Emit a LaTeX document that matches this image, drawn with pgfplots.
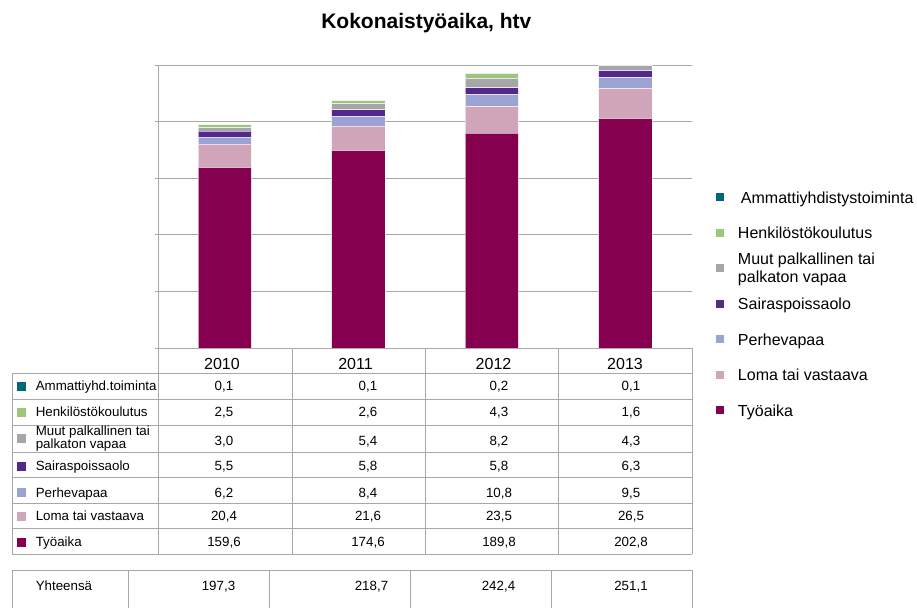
\documentclass[border=0pt]{standalone}
\usepackage{pgfplots}
\pgfplotsset{compat=1.18}
\usepackage{pgfplotstable}
\usepackage{fontspec}
\setmainfont{Liberation Sans}

\definecolor{cTyo}{HTML}{860050}
\definecolor{cLoma}{HTML}{D0A5B9}
\definecolor{cPerhe}{HTML}{9BA3D3}
\definecolor{cSaira}{HTML}{53288A}
\definecolor{cMuut}{HTML}{A6A6A8}
\definecolor{cHenk}{HTML}{9DC67C}
\definecolor{cAmm}{HTML}{00687A}
\definecolor{gridc}{HTML}{A8A8A8}

\pgfplotstableread{
x tyo loma perhe saira muut henk amm
0 159.6 20.4 6.2 5.5 3.0 2.5 0.1
1 174.6 21.6 8.4 5.8 5.4 2.6 0.1
2 189.8 23.5 10.8 5.8 8.2 4.3 0.2
3 202.8 26.5 9.5 6.3 4.3 1.6 0.1
}\datatable

\begin{document}
\begin{tikzpicture}
\begin{axis}[
  at={(118.5pt,-261pt)}, anchor=south west,
  scale only axis, width=400.5pt, height=212.25pt,
  ybar stacked, bar width=40pt,
  xmin=-0.5, xmax=3.5, ymin=0, ymax=250,
  xtick=\empty, ytick={0,50,100,150,200,250}, yticklabels={},
  axis x line=none, axis y line*=left,
  y axis line style={draw=gridc, line width=0.75pt, -},
  ymajorgrids, grid style={draw=gridc, line width=0.75pt},
  tick align=outside, major tick length=2.25pt,
  ytick style={draw=gridc, line width=0.75pt},
  every axis plot/.append style={draw=white, draw opacity=0.6, line width=0.5pt},
  reverse legend,
  legend cell align=left,
  legend image code/.code={\fill[#1, draw=none] (0pt,-1.7pt) rectangle (6pt,4.3pt);},
  legend style={at={(axis description cs:1.0449,0.5548)}, anchor=north west,
    draw=none, fill=none, inner sep=0pt, outer sep=0pt,
    row sep=14.65pt, column sep=10.5pt,
    font=\fontsize{12}{13.5}\selectfont,
    nodes={inner sep=0pt, text height=9pt, text depth=3pt}},
  every axis title shift=0pt,
  title={Kokonaistyöaika, htv},
  title style={at={(axis description cs:0.5025,1.13)}, anchor=base,
    font=\bfseries\fontsize{15.75}{18}\selectfont},
]
\addplot[fill=cTyo] table[x=x, y=tyo] {\datatable};
\addlegendentry{Työaika}
\addplot[fill=cLoma] table[x=x, y=loma] {\datatable};
\addlegendentry{Loma tai vastaava}
\addplot[fill=cPerhe] table[x=x, y=perhe] {\datatable};
\addlegendentry{Perhevapaa}
\addplot[fill=cSaira] table[x=x, y=saira] {\datatable};
\addlegendentry{Sairaspoissaolo}
\addplot[fill=cMuut] table[x=x, y=muut] {\datatable};
\addlegendentry{\smash{\begin{tabular}[c]{@{}l@{}}Muut palkallinen tai\\palkaton vapaa\end{tabular}}}
\addplot[fill=cHenk] table[x=x, y=henk] {\datatable};
\addlegendentry{Henkilöstökoulutus}
\addplot[fill=cAmm] table[x=x, y=amm] {\datatable};
\addlegendentry{\kern2.25pt Ammattiyhdistystoiminta}
\end{axis}

\begin{scope}[x=0.75pt,y=-0.75pt, tl/.style={draw=gridc, line width=0.75pt},
  lab/.style={anchor=base west, inner sep=0pt, font=\fontsize{10}{12}\selectfont},
  val/.style={anchor=base, inner sep=0pt, font=\fontsize{10}{12}\selectfont},
  yr/.style={anchor=base, inner sep=0pt, font=\fontsize{12}{14}\selectfont}]
% main table lines
\draw[tl] (158,348) -- (692,348);
\foreach \yy in {373,399,425,452,477,503,528,554} {\draw[tl] (12,\yy) -- (692,\yy);}
\draw[tl] (12,373) -- (12,554);
\foreach \xx in {158,292,425,558,692} {\draw[tl] (\xx,348) -- (\xx,554);}
% total table lines
\draw[tl] (12,570) -- (692,570);
\foreach \xx in {12,128,269,410,551,692} {\draw[tl] (\xx,570) -- (\xx,608);}
% headers
\node[yr] at (222,369.5) {2010};
\node[yr] at (355.5,369.5) {2011};
\node[yr] at (493.5,369.5) {2012};
\node[yr] at (625,369.5) {2013};
% row squares
\fill[cAmm]   (17,381.7) rectangle (26,390.7);
\fill[cHenk]  (17,407.7) rectangle (26,416.7);
\fill[cMuut]  (17,434.3) rectangle (26,443.3);
\fill[cSaira] (17,461.7) rectangle (26,470.7);
\fill[cPerhe] (17,488)   rectangle (26,497);
\fill[cLoma]  (17,511.7) rectangle (26,520.7);
\fill[cTyo]   (17,537.7) rectangle (26,546.7);
% row labels
\node[lab] at (35.5,390.7) {Ammattiyhd.toiminta};
\node[lab] at (35.5,416.7) {Henkilöstökoulutus};
\node[lab] at (35.5,435) {Muut palkallinen tai};
\node[lab] at (35.5,448.3) {palkaton vapaa};
\node[lab] at (35.5,470.7) {Sairaspoissaolo};
\node[lab] at (35.5,497) {Perhevapaa};
\node[lab] at (35.5,520.7) {Loma tai vastaava};
\node[lab] at (35.5,546.7) {Työaika};
% values 2010
\node[val] at (224,390.7) {0,1};
\node[val] at (224,416.7) {2,5};
\node[val] at (224,445) {3,0};
\node[val] at (224,470.7) {5,5};
\node[val] at (224,497.5) {6,2};
\node[val] at (224,520.7) {20,4};
\node[val] at (224,546.7) {159,6};
% values 2011
\node[val] at (368,390.7) {0,1};
\node[val] at (368,416.7) {2,6};
\node[val] at (368,445) {5,4};
\node[val] at (368,470.7) {5,8};
\node[val] at (368,497.5) {8,4};
\node[val] at (368,520.7) {21,6};
\node[val] at (368,546.7) {174,6};
% values 2012
\node[val] at (499,390.7) {0,2};
\node[val] at (499,416.7) {4,3};
\node[val] at (499,445) {8,2};
\node[val] at (499,470.7) {5,8};
\node[val] at (499,497.5) {10,8};
\node[val] at (499,520.7) {23,5};
\node[val] at (499,546.7) {189,8};
% values 2013
\node[val] at (631,390.7) {0,1};
\node[val] at (631,416.7) {1,6};
\node[val] at (631,445) {4,3};
\node[val] at (631,470.7) {6,3};
\node[val] at (631,497.5) {9,5};
\node[val] at (631,520.7) {26,5};
\node[val] at (631,546.7) {202,8};
% total row
\node[lab] at (35.5,590) {Yhteensä};
\node[val] at (218.5,590) {197,3};
\node[val] at (371.5,590) {218,7};
\node[val] at (498.5,590) {242,4};
\node[val] at (631,590) {251,1};
\end{scope}
\pgfresetboundingbox
\path[use as bounding box] (0pt,0pt) rectangle (687.75pt,-455.25pt);
\end{tikzpicture}
\end{document}
